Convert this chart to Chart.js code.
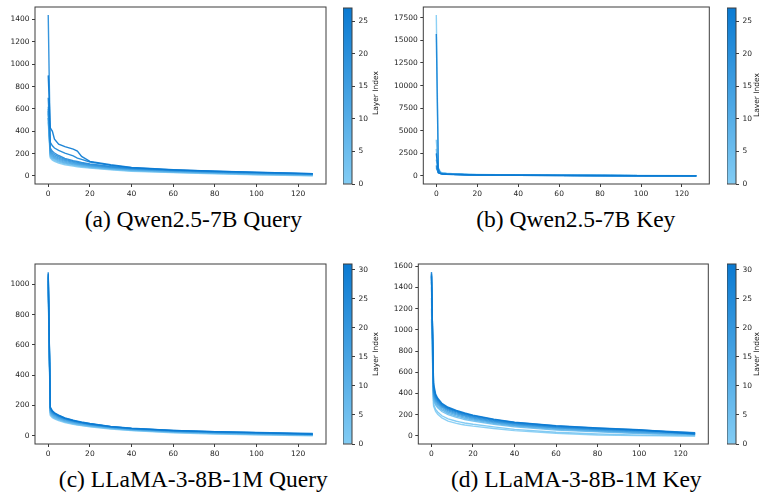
<!DOCTYPE html>
<html>
<head>
<meta charset="utf-8">
<script src="https://cdn.jsdelivr.net/npm/chart.js@4.4.1/dist/chart.umd.min.js"></script>
<style>
  html, body { margin:0; padding:0; background:#fff; }
  body { width:759px; height:495px; position:relative; overflow:hidden; }
  canvas { position:absolute; }
  .cap { position:absolute; width:320px; text-align:center; font-family:"Liberation Serif","Times New Roman","DejaVu Serif",serif; font-size:23.5px; line-height:23.5px; color:#000; white-space:nowrap; }
  .cbl { position:absolute; font-family:"DejaVu Sans",sans-serif; font-size:7.5px; line-height:8px; color:#222; white-space:nowrap; transform:translate(-50%,-50%) rotate(-90deg); }
</style>
</head>
<body>
<canvas id="qq" width="330" height="200" style="left:0px;top:0px"></canvas>
<canvas id="qqcb" width="32" height="200" style="left:343.3px;top:0px"></canvas>
<canvas id="qk" width="333" height="200" style="left:380px;top:0px"></canvas>
<canvas id="qkcb" width="32" height="200" style="left:727.3px;top:0px"></canvas>
<canvas id="lq" width="330" height="210" style="left:0px;top:250px"></canvas>
<canvas id="lqcb" width="32" height="210" style="left:343.3px;top:250px"></canvas>
<canvas id="lk" width="333" height="210" style="left:380px;top:250px"></canvas>
<canvas id="lkcb" width="32" height="210" style="left:726.7px;top:250px"></canvas>

<div class="cbl" style="left:375.7px;top:93px">Layer Index</div>
<div class="cbl" style="left:757.3px;top:95px">Layer Index</div>
<div class="cbl" style="left:375.7px;top:354px">Layer Index</div>
<div class="cbl" style="left:757px;top:354px">Layer Index</div>

<div class="cap" style="left:33.3px;top:207.8px">(a) Qwen2.5-7B Query</div>
<div class="cap" style="left:415.8px;top:207.8px">(b) Qwen2.5-7B Key</div>
<div class="cap" style="left:33.3px;top:467.8px">(c) LLaMA-3-8B-1M Query</div>
<div class="cap" style="left:416.3px;top:467.8px">(d) LLaMA-3-8B-1M Key</div>

<script>
// ---------- DATA ----------
// singular-value rank positions
const ranks = [0, 1, 2, 3, 5, 8, 12, 14, 16, 20, 30, 40, 60, 80, 100, 127];
const xTicks = [0, 20, 40, 60, 80, 100, 120];

// (a) Qwen2.5-7B Query (layers 0..27)
const qwenQueryLayers = [0, 3, 6, 9, 12, 15, 18, 21, 24, 27];
const qqL0  = [480, 160, 140, 130, 115, 100, 88, 82, 78, 70, 55, 42, 30, 20, 10, 1];
const qqL3  = [520, 170, 150, 140, 125, 108, 95, 89, 84, 75, 59, 46, 33, 23, 13, 4];
const qqL6  = [560, 180, 160, 150, 133, 115, 101, 95, 89, 80, 63, 50, 36, 26, 16, 7];
const qqL9  = [600, 190, 170, 158, 141, 122, 107, 101, 95, 85, 67, 54, 40, 29, 19, 10];
const qqL12 = [520, 200, 180, 167, 150, 130, 114, 107, 101, 90, 71, 58, 43, 32, 22, 12];
const qqL15 = [620, 215, 192, 178, 160, 139, 121, 114, 107, 96, 75, 62, 46, 35, 25, 15];
const qqL18 = [580, 230, 205, 190, 170, 148, 129, 121, 114, 102, 80, 66, 49, 38, 28, 17];
const qqL21 = [1440, 250, 220, 205, 183, 158, 137, 129, 121, 108, 84, 69, 52, 40, 30, 19];
const qqL24 = [700, 300, 270, 250, 228, 205, 180, 160, 148, 125, 95, 74, 54, 42, 32, 20];
const qqL27 = [900, 430, 400, 330, 285, 262, 240, 222, 175, 130, 100, 76, 56, 43, 33, 21];
const qwenQuerySeries = [qqL0, qqL3, qqL6, qqL9, qqL12, qqL15, qqL18, qqL21, qqL24, qqL27];
const qwenQueryYTicks = [0, 200, 400, 600, 800, 1000, 1200, 1400];

// (b) Qwen2.5-7B Key (layers 0..27)
const qwenKeyLayers = [0, 3, 6, 9, 12, 15, 18, 21, 24, 27];
const qkL0  = [17800, 900, 450, 350, 300, 250, 210, 190, 175, 160, 130, 105, 80, 60, 45, 25];
const qkL3  = [4000, 700, 400, 320, 270, 230, 200, 180, 165, 150, 120, 100, 75, 55, 40, 20];
const qkL6  = [3000, 600, 350, 300, 250, 210, 185, 170, 155, 140, 115, 95, 70, 52, 38, 18];
const qkL9  = [1800, 500, 330, 280, 240, 200, 175, 160, 148, 135, 110, 90, 68, 50, 36, 16];
const qkL12 = [1200, 450, 300, 260, 225, 190, 168, 154, 142, 128, 105, 86, 65, 48, 34, 15];
const qkL15 = [1000, 400, 290, 250, 215, 185, 162, 150, 138, 124, 102, 83, 63, 46, 33, 14];
const qkL18 = [900, 380, 280, 240, 205, 178, 156, 145, 134, 120, 98, 80, 60, 44, 31, 13];
const qkL21 = [1100, 360, 270, 230, 200, 172, 152, 140, 130, 116, 95, 77, 58, 42, 30, 12];
const qkL24 = [15700, 800, 300, 250, 210, 180, 160, 148, 136, 122, 100, 82, 62, 45, 32, 14];
const qkL27 = [2500, 350, 260, 225, 195, 168, 148, 137, 127, 113, 92, 75, 56, 41, 29, 11];
const qwenKeySeries = [qkL0, qkL3, qkL6, qkL9, qkL12, qkL15, qkL18, qkL21, qkL24, qkL27];
const qwenKeyYTicks = [0, 2500, 5000, 7500, 10000, 12500, 15000, 17500];

// (c) LLaMA-3-8B-1M Query (layers 0..31)
const llamaQueryLayers = [0, 4, 8, 12, 16, 20, 24, 28, 31];
const lqL0  = [950, 135, 120, 112, 100, 88, 76, 71, 67, 60, 45, 34, 20, 12, 6, 0];
const lqL4  = [980, 142, 126, 117, 105, 92, 80, 75, 70, 63, 48, 37, 23, 15, 9, 3];
const lqL8  = [1000, 150, 132, 122, 110, 96, 84, 79, 74, 66, 51, 40, 26, 18, 12, 5];
const lqL12 = [1020, 157, 138, 128, 115, 100, 88, 82, 77, 69, 54, 42, 28, 20, 14, 7];
const lqL16 = [1040, 165, 145, 134, 120, 105, 92, 86, 81, 72, 56, 44, 30, 22, 16, 9];
const lqL20 = [1050, 172, 151, 139, 125, 109, 95, 89, 84, 75, 58, 46, 32, 24, 18, 11];
const lqL24 = [1060, 180, 157, 145, 130, 113, 99, 93, 87, 78, 60, 48, 34, 26, 20, 13];
const lqL28 = [1080, 190, 165, 152, 136, 118, 103, 97, 91, 81, 62, 50, 36, 28, 22, 15];
const lqL31 = [1070, 185, 162, 150, 134, 116, 101, 95, 89, 80, 61, 49, 35, 27, 21, 10];
const llamaQuerySeries = [lqL0, lqL4, lqL8, lqL12, lqL16, lqL20, lqL24, lqL28, lqL31];
const llamaQueryYTicks = [0, 200, 400, 600, 800, 1000];

// (d) LLaMA-3-8B-1M Key (layers 0..31)
const llamaKeyLayers = [0, 2, 5, 9, 13, 17, 21, 25, 29, 31];
const lkL0  = [1100, 280, 230, 205, 170, 140, 118, 110, 103, 92, 70, 50, 25, 9, 3, 0];
const lkL2  = [1200, 300, 250, 225, 190, 160, 138, 130, 122, 110, 85, 62, 35, 18, 8, 2];
const lkL5  = [1300, 330, 290, 265, 230, 200, 175, 165, 155, 140, 110, 85, 55, 38, 22, 8];
const lkL9  = [1400, 350, 305, 280, 245, 213, 187, 177, 167, 150, 118, 93, 62, 44, 28, 12];
const lkL13 = [1450, 370, 320, 295, 258, 225, 198, 187, 177, 160, 126, 100, 70, 50, 34, 16];
const lkL17 = [1500, 390, 335, 308, 270, 236, 208, 197, 186, 168, 133, 107, 76, 56, 40, 20];
const lkL21 = [1520, 410, 350, 320, 280, 245, 217, 206, 195, 176, 140, 114, 82, 62, 46, 24];
const lkL25 = [1545, 430, 365, 333, 290, 254, 226, 214, 203, 184, 147, 120, 88, 68, 52, 28];
const lkL29 = [1530, 460, 380, 345, 300, 263, 234, 222, 210, 191, 154, 126, 94, 73, 56, 30];
const lkL31 = [1510, 495, 395, 355, 308, 270, 240, 228, 216, 196, 158, 130, 97, 76, 58, 18];
const llamaKeySeries = [lkL0, lkL2, lkL5, lkL9, lkL13, lkL17, lkL21, lkL25, lkL29, lkL31];
const llamaKeyYTicks = [0, 200, 400, 600, 800, 1000, 1200, 1400, 1600];

// colorbar ranges and ticks
const qwenLayerRange = [0, 27];
const llamaLayerRange = [0, 31];
const qwenCbTicks = [0, 5, 10, 15, 20, 25];
const llamaCbTicks = [0, 5, 10, 15, 20, 25, 30];

// ---------- STYLE / HELPERS ----------
const LO = [130, 204, 244];
const HI = [10, 122, 210];
function col(t, a) {
  const c = LO.map((v, i) => Math.round(v + (HI[i] - v) * t));
  return `rgba(${c[0]},${c[1]},${c[2]},${a})`;
}
const tickFont = { family: 'DejaVu Sans', size: 7.5 };
const tickColor = '#222';
const frameColor = '#3c3c3c';
const plainLabel = v => String(v);

const framePlugin = {
  id: 'frame',
  afterDraw(chart) {
    const { ctx, chartArea: a } = chart;
    ctx.save();
    ctx.strokeStyle = frameColor;
    ctx.lineWidth = 1;
    ctx.strokeRect(a.left, a.top, a.right - a.left, a.bottom - a.top);
    ctx.restore();
  }
};

function lineChart(id, series, layers, range, yMin, yMax, yTicks, yAxisW, xAxisH, pad) {
  new Chart(document.getElementById(id), {
    type: 'line',
    data: {
      datasets: series.map((vals, i) => ({
        data: vals.map((v, j) => ({ x: ranks[j], y: v })),
        borderColor: col(layers[i] / range[1], 0.92),
        borderWidth: 1.4,
        pointRadius: 0,
        fill: false,
        tension: 0,
        order: -layers[i]
      }))
    },
    options: {
      responsive: false,
      animation: false,
      events: [],
      layout: { padding: pad },
      plugins: { legend: { display: false }, tooltip: { enabled: false } },
      scales: {
        x: {
          type: 'linear', min: -6.35, max: 133.35,
          afterBuildTicks: s => { s.ticks = xTicks.map(v => ({ value: v })); },
          afterFit: s => { s.height = xAxisH; },
          grid: { display: true, drawOnChartArea: false, drawTicks: true, tickLength: 3, color: frameColor, tickColor: frameColor },
          border: { display: false },
          ticks: { font: tickFont, color: tickColor, padding: 3, maxRotation: 0, autoSkip: false, callback: plainLabel }
        },
        y: {
          type: 'linear', min: yMin, max: yMax,
          afterBuildTicks: s => { s.ticks = yTicks.map(v => ({ value: v })); },
          afterFit: s => { s.width = yAxisW; },
          grid: { display: true, drawOnChartArea: false, drawTicks: true, tickLength: 3, color: frameColor, tickColor: frameColor },
          border: { display: false },
          ticks: { font: tickFont, color: tickColor, padding: 2.5, autoSkip: false, callback: plainLabel }
        }
      }
    },
    plugins: [framePlugin]
  });
}

function colorbar(id, range, cbTicks, pad) {
  new Chart(document.getElementById(id), {
    type: 'bar',
    data: {
      labels: ['cb'],
      datasets: [{
        data: [range],
        borderWidth: 0,
        categoryPercentage: 1,
        barPercentage: 1,
        backgroundColor: ctx => {
          const a = ctx.chart.chartArea;
          if (!a) return col(0.5, 1);
          const g = ctx.chart.ctx.createLinearGradient(0, a.bottom, 0, a.top);
          g.addColorStop(0, col(0, 1));
          g.addColorStop(1, col(1, 1));
          return g;
        }
      }]
    },
    options: {
      responsive: false,
      animation: false,
      events: [],
      layout: { padding: pad },
      plugins: { legend: { display: false }, tooltip: { enabled: false } },
      scales: {
        x: { display: false },
        y: {
          position: 'right', min: range[0], max: range[1],
          afterBuildTicks: s => { s.ticks = cbTicks.map(v => ({ value: v })); },
          afterFit: s => { s.width = 22; },
          grid: { display: true, drawOnChartArea: false, drawTicks: true, tickLength: 3, color: frameColor, tickColor: frameColor },
          border: { display: false },
          ticks: { font: tickFont, color: tickColor, padding: 3.5, autoSkip: false, callback: plainLabel }
        }
      }
    },
    plugins: [framePlugin]
  });
}

// ---------- CHARTS ----------
lineChart('qq', qwenQuerySeries, qwenQueryLayers, qwenLayerRange, -72, 1512, qwenQueryYTicks, 35, 16, { top: 4, right: 4, left: 0, bottom: 0 });
lineChart('qk', qwenKeySeries, qwenKeyLayers, qwenLayerRange, -889, 18689, qwenKeyYTicks, 43.3, 16, { top: 6, right: 3.7, left: 0, bottom: 0 });
lineChart('lq', llamaQuerySeries, llamaQueryLayers, llamaLayerRange, -54, 1134, llamaQueryYTicks, 35, 16, { top: 14, right: 4, left: 0, bottom: 0 });
lineChart('lk', llamaKeySeries, llamaKeyLayers, llamaLayerRange, -76, 1620, llamaKeyYTicks, 38.3, 16, { top: 14, right: 4.7, left: 0, bottom: 0 });

colorbar('qqcb', qwenLayerRange, qwenCbTicks, { top: 4, bottom: 16, left: 0, right: 1 });
colorbar('qkcb', qwenLayerRange, qwenCbTicks, { top: 6, bottom: 16, left: 0, right: 1 });
colorbar('lqcb', llamaLayerRange, llamaCbTicks, { top: 14, bottom: 16, left: 0, right: 1 });
colorbar('lkcb', llamaLayerRange, llamaCbTicks, { top: 14, bottom: 16, left: 0, right: 1 });
</script>
</body>
</html>
